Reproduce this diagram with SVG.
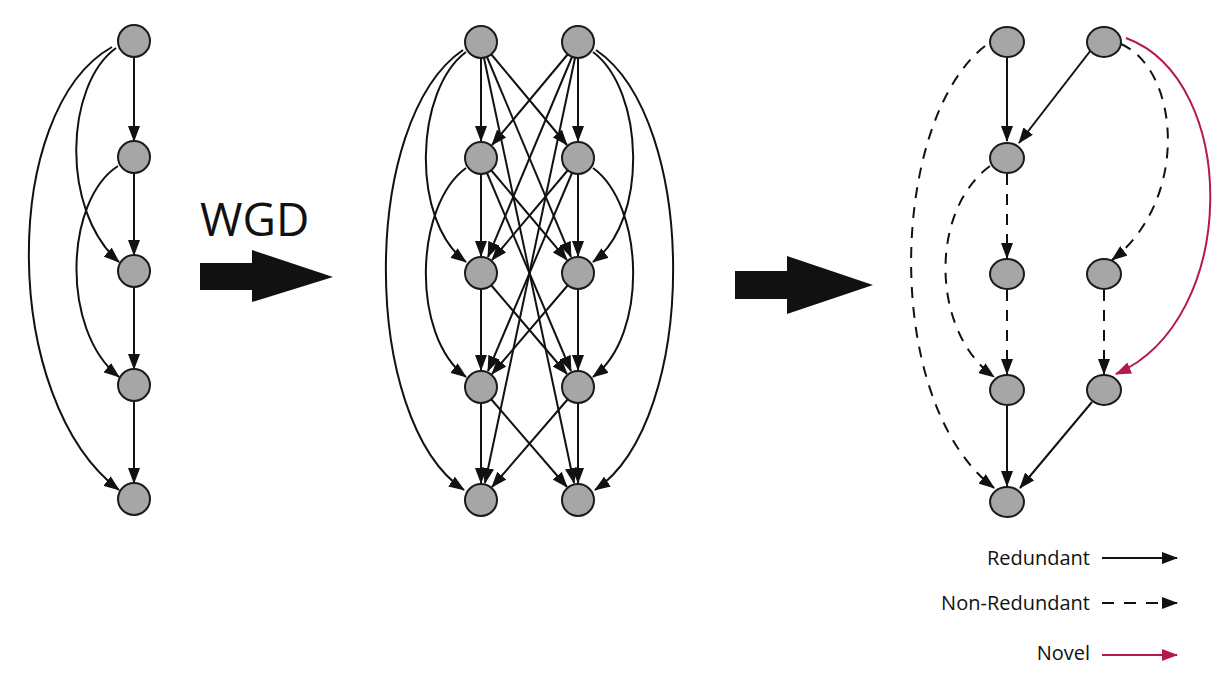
<svg xmlns="http://www.w3.org/2000/svg" width="1226" height="686" viewBox="0 0 1226 686">
<style>
.n{fill:#a6a6a6;stroke:#1a1a1a;stroke-width:2}
.e{fill:none;stroke:#111;stroke-width:2;marker-end:url(#a)}
.d{stroke-dasharray:11 9}
.r{fill:none;stroke:#b5174f;stroke-width:2;marker-end:url(#ar)}
.t{font-family:"Open Sans","Liberation Sans",sans-serif;font-size:20px;fill:#111}
</style>
<defs>
<marker id="a" markerUnits="userSpaceOnUse" markerWidth="16" markerHeight="12" refX="15" refY="6" orient="auto"><path d="M0,0 L16,6 L0,12 Z" fill="#111"/></marker>
<marker id="ar" markerUnits="userSpaceOnUse" markerWidth="16" markerHeight="12" refX="15" refY="6" orient="auto"><path d="M0,0 L16,6 L0,12 Z" fill="#b5174f"/></marker>
</defs>
<rect width="1226" height="686" fill="#fff"/>
<g id="connectors">
<!-- left graph -->
<path class="e" d="M134,57 V141"/><path class="e" d="M134,173 V255"/><path class="e" d="M134,287 V369"/><path class="e" d="M134,401 V483"/>
<path class="e" d="M116,48 C65,85 60,210 119,262"/>
<path class="e" d="M118,166 C65,200 60,330 119,377"/>
<path class="e" d="M112,47 C0,110 0,400 119,490"/>
<!-- middle graph vertical -->
<path class="e" d="M481,58 V141"/><path class="e" d="M481,174 V256"/><path class="e" d="M481,289 V370"/><path class="e" d="M481,403 V483"/>
<path class="e" d="M578,58 V141"/><path class="e" d="M578,174 V256"/><path class="e" d="M578,289 V370"/><path class="e" d="M578,403 V483"/>
<!-- adjacent cross -->
<path class="e" d="M491,54 L567,145"/><path class="e" d="M568,54 L492,145"/>
<path class="e" d="M491,170 L567,260"/><path class="e" d="M568,170 L492,260"/>
<path class="e" d="M491,285 L567,374"/><path class="e" d="M568,285 L492,374"/>
<path class="e" d="M491,399 L567,487"/><path class="e" d="M568,399 L492,487"/>
<!-- non-adjacent cross -->
<path class="e" d="M487,57 L571,257"/><path class="e" d="M572,57 L488,257"/>
<path class="e" d="M487,173 L571,371"/><path class="e" d="M572,173 L488,371"/>
<path class="e" d="M484,58 L574,483"/><path class="e" d="M575,58 L485,483"/>
<!-- same column curves -->
<path class="e" d="M466,52 C415,90 410,220 466,262"/>
<path class="e" d="M466,168 C415,205 410,335 466,377"/>
<path class="e" d="M463,50 C360,120 360,420 464,490"/>
<path class="e" d="M593,52 C644,90 649,220 593,262"/>
<path class="e" d="M593,168 C644,205 649,335 593,377"/>
<path class="e" d="M596,50 C699,120 699,420 595,490"/>
<!-- right graph -->
<path class="e" d="M1007,58 V141"/>
<path class="e" d="M1091,50 L1019,143"/>
<path class="e d" d="M985,46 C890,120 880,400 994,488"/>
<path class="e d" d="M990,166 C930,210 930,330 994,377"/>
<path class="e d" d="M1007,174 V258"/>
<path class="e d" d="M1007,290 V374"/>
<path class="e d" d="M1121,44 C1180,70 1190,200 1112,260"/>
<path class="e d" d="M1104,290 V374"/>
<path class="r" d="M1126,38 C1240,80 1240,320 1116,374"/>
<path class="e" d="M1007,406 V486"/>
<path class="e" d="M1092,402 L1020,488"/>
</g>
<g id="left">
<circle class="n" cx="134" cy="41" r="16"/><circle class="n" cx="134" cy="157" r="16"/><circle class="n" cx="134" cy="271" r="16"/><circle class="n" cx="134" cy="385" r="16"/><circle class="n" cx="134" cy="499" r="16"/>
</g>
<g id="middle">
<circle class="n" cx="481" cy="42" r="16"/><circle class="n" cx="481" cy="158" r="16"/><circle class="n" cx="481" cy="273" r="16"/><circle class="n" cx="481" cy="387" r="16"/><circle class="n" cx="481" cy="500" r="16"/>
<circle class="n" cx="578" cy="42" r="16"/><circle class="n" cx="578" cy="158" r="16"/><circle class="n" cx="578" cy="273" r="16"/><circle class="n" cx="578" cy="387" r="16"/><circle class="n" cx="578" cy="500" r="16"/>
</g>
<g id="right">
<ellipse class="n" cx="1007" cy="42" rx="17" ry="15"/><ellipse class="n" cx="1104" cy="42" rx="17" ry="15"/>
<ellipse class="n" cx="1007" cy="158" rx="17" ry="15"/>
<ellipse class="n" cx="1007" cy="274" rx="17" ry="15"/><ellipse class="n" cx="1104" cy="274" rx="17" ry="15"/>
<ellipse class="n" cx="1007" cy="390" rx="17" ry="15"/><ellipse class="n" cx="1104" cy="390" rx="17" ry="15"/>
<ellipse class="n" cx="1007" cy="502" rx="17" ry="15"/>
</g>
<g id="arrows">
<text x="200" y="236" font-family="'Open Sans','Liberation Sans',sans-serif" font-size="46" fill="#111">WGD</text>
<path d="M200,263 H252 V250 L333,277 L252,302 V290 H200 Z" fill="#111"/>
<path d="M735,271 H787 V256 L873,285 L787,314 V299 H735 Z" fill="#111"/>
</g>
<g id="legend">
<text class="t" x="1090" y="565" text-anchor="end">Redundant</text>
<path class="e" d="M1102,558 H1177"/>
<text class="t" x="1090" y="610" text-anchor="end">Non-Redundant</text>
<path class="e" d="M1102,603 H1177" stroke-dasharray="12 10"/>
<text class="t" x="1090" y="660" text-anchor="end">Novel</text>
<path class="r" d="M1102,655 H1177"/>
</g>
</svg>
